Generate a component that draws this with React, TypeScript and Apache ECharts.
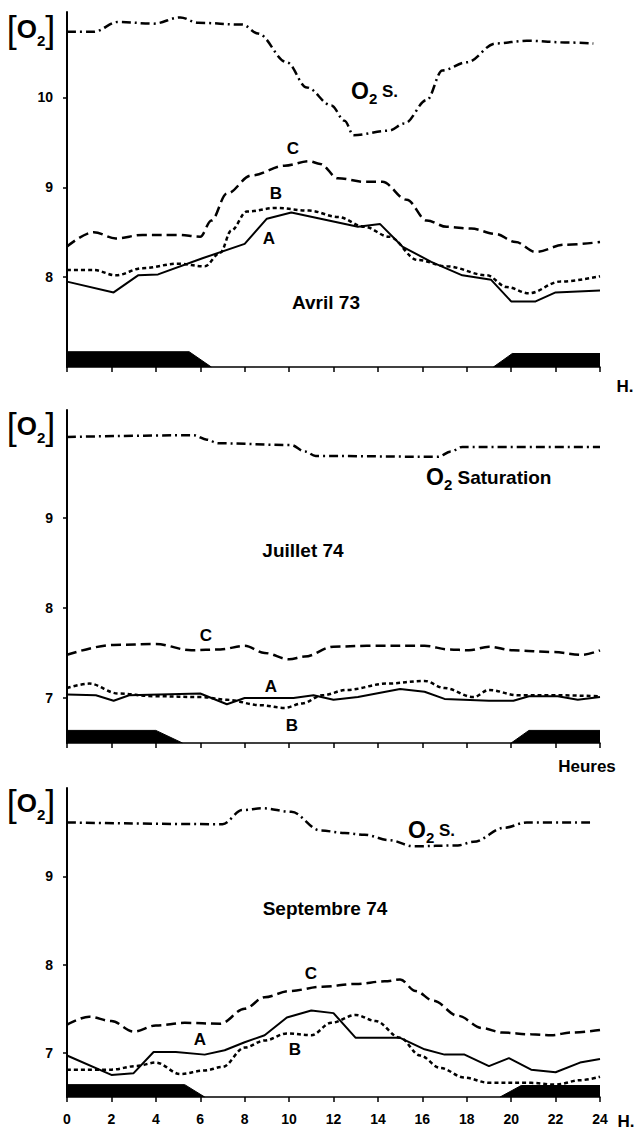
import React, { useEffect, useRef } from 'react';
import * as echarts from 'echarts';

// ---------- DATA (hour, mg/l O2) ----------
const hourTicks = [0, 2, 4, 6, 8, 10, 12, 14, 16, 18, 20, 22, 24];

// Avril 73
const aprO2S: number[][] = [[0, 10.73], [1.2, 10.73], [2.3, 10.84], [3.9, 10.82], [5.1, 10.89], [5.9, 10.83], [7.9, 10.81], [8.6, 10.71], [9.9, 10.39], [10.8, 10.11], [11.9, 9.91], [12.5, 9.74], [12.9, 9.58], [14.5, 9.63], [15.2, 9.71], [16.2, 9.97], [16.9, 10.3], [18, 10.39], [19.3, 10.6], [20.7, 10.63], [22.6, 10.61], [23.7, 10.6]];
const aprC: number[][] = [[0, 8.34], [1.2, 8.5], [2.2, 8.43], [3.4, 8.47], [5, 8.47], [6, 8.45], [6.5, 8.63], [7.2, 8.93], [8.3, 9.13], [9.8, 9.24], [10.9, 9.29], [11.4, 9.26], [12.2, 9.1], [13.4, 9.06], [14.2, 9.06], [15.3, 8.86], [16.2, 8.63], [17.1, 8.56], [18.2, 8.54], [19.3, 8.48], [20.2, 8.39], [21.1, 8.28], [22.4, 8.36], [24, 8.39]];
const aprB: number[][] = [[0, 8.08], [1.2, 8.08], [2.2, 8.02], [3.4, 8.1], [5, 8.15], [6.2, 8.12], [6.9, 8.27], [7.4, 8.52], [8.1, 8.73], [9.4, 8.77], [10.9, 8.74], [12.2, 8.67], [13.4, 8.56], [14.5, 8.45], [15.8, 8.19], [17.1, 8.12], [18.9, 8.02], [19.8, 7.89], [20.8, 7.82], [22.2, 7.95], [24, 8.01]];
const aprA: number[][] = [[0, 7.95], [2.1, 7.83], [3.2, 8.02], [4.1, 8.03], [6.1, 8.21], [8, 8.37], [9, 8.65], [10.1, 8.72], [13.1, 8.56], [14.1, 8.59], [15.1, 8.34], [16.4, 8.17], [17.8, 8.02], [19.1, 7.97], [20, 7.73], [21.1, 7.73], [22, 7.83], [24, 7.85]];
const aprNightAM: number[][] = [[0, 7.17], [5.5, 7.17], [6.5, 7]];
const aprNightPM: number[][] = [[19.2, 7], [20.05, 7.15], [24, 7.15]];

// Juillet 74
const julO2S: number[][] = [[0, 9.9], [5.7, 9.92], [6.3, 9.87], [6.8, 9.83], [10.1, 9.81], [10.7, 9.74], [11.2, 9.69], [16.7, 9.68], [17.3, 9.74], [17.8, 9.79], [24, 9.79]];
const julC: number[][] = [[0, 7.48], [2.1, 7.59], [4, 7.6], [5.6, 7.53], [6.9, 7.54], [8, 7.58], [8.9, 7.5], [10, 7.43], [10.7, 7.46], [12, 7.57], [13.5, 7.58], [16.1, 7.58], [17.2, 7.54], [18.1, 7.53], [19, 7.57], [20.1, 7.53], [21.9, 7.51], [23.2, 7.48], [24, 7.53]];
const julA: number[][] = [[0, 7.04], [1.3, 7.03], [2.1, 6.97], [2.8, 7.03], [6, 7.05], [7.2, 6.93], [8, 7.0], [10.2, 7.0], [11.1, 7.03], [12, 6.98], [13.1, 7.01], [15, 7.1], [16.1, 7.07], [17, 6.99], [19, 6.97], [20.1, 6.97], [20.8, 7.02], [22.1, 7.02], [23, 6.98], [24, 7.01]];
const julB: number[][] = [[0, 7.11], [1, 7.16], [2.3, 7.05], [3.9, 7.02], [6.1, 7.01], [7.2, 6.98], [8.7, 6.92], [9.8, 6.89], [10.6, 6.94], [11.5, 7.03], [12.6, 7.09], [14.4, 7.16], [16.1, 7.19], [17, 7.11], [18.3, 7.01], [19, 7.09], [20.3, 7.03], [22.1, 7.03], [24, 7.02]];
const julNightAM: number[][] = [[0, 6.64], [4.0, 6.64], [5.2, 6.5]];
const julNightPM: number[][] = [[20.0, 6.5], [20.8, 6.64], [24, 6.64]];

// Septembre 74
const sepO2S: number[][] = [[0, 9.61], [7, 9.59], [7.9, 9.75], [8.8, 9.77], [10.1, 9.73], [11.4, 9.52], [12.5, 9.49], [13.4, 9.47], [14.5, 9.41], [15.6, 9.34], [17.6, 9.35], [18.3, 9.39], [19.7, 9.55], [20.7, 9.61], [23.6, 9.61]];
const sepC: number[][] = [[0, 7.32], [1, 7.41], [2, 7.36], [3, 7.24], [4, 7.31], [5.3, 7.34], [6.9, 7.33], [8, 7.5], [8.9, 7.63], [10, 7.7], [11.5, 7.75], [13, 7.78], [14.3, 7.81], [15, 7.83], [15.7, 7.7], [16.5, 7.59], [17.6, 7.42], [18.7, 7.28], [19.6, 7.23], [20.9, 7.21], [21.8, 7.2], [22.7, 7.23], [24, 7.26]];
const sepA: number[][] = [[0, 6.97], [2, 6.75], [3, 6.77], [3.9, 7.01], [4.9, 7.01], [6.2, 6.98], [7.1, 7.03], [8, 7.12], [8.9, 7.2], [9.9, 7.4], [11, 7.48], [12, 7.45], [13, 7.17], [15, 7.17], [16.1, 7.04], [17, 6.98], [17.9, 6.98], [19, 6.85], [19.9, 6.94], [20.9, 6.81], [22, 6.78], [23.1, 6.89], [24, 6.93]];
const sepB: number[][] = [[0, 6.81], [2, 6.81], [3.1, 6.85], [4, 6.89], [5.1, 6.76], [6.2, 6.8], [7, 6.84], [8, 7.06], [8.9, 7.14], [9.9, 7.22], [11, 7.2], [11.9, 7.34], [13, 7.43], [13.9, 7.36], [15, 7.17], [15.9, 6.97], [16.8, 6.83], [17.9, 6.72], [19, 6.66], [20.9, 6.66], [22, 6.64], [23.1, 6.69], [24, 6.73]];
const sepNightAM: number[][] = [[0, 6.64], [5.3, 6.64], [6.2, 6.5]];
const sepNightPM: number[][] = [[19.5, 6.5], [20.45, 6.63], [24, 6.63]];

const FONT = 'Liberation Sans, Arial, sans-serif';

function buildOption() {
  const grids = [
    { left: 67, width: 533, top: 12, height: 355 },
    { left: 67, width: 533, top: 410, height: 333 },
    { left: 67, width: 533, top: 788, height: 309 },
  ].map((g) => ({ ...g, outerBoundsMode: 'none', containLabel: false }));

  const yRanges = [
    { min: 7, max: 10.95, interval: 1, labels: [8, 9, 10] },
    { min: 6.5, max: 10.2, interval: 0.5, labels: [7, 8, 9] },
    { min: 6.5, max: 10.0, interval: 0.5, labels: [7, 8, 9] },
  ];

  const yAxis = yRanges.map((r, i) => ({
    type: 'value',
    gridIndex: i,
    min: r.min,
    max: r.max,
    interval: r.interval,
    splitLine: { show: false },
    axisLine: { show: true, lineStyle: { color: '#000', width: 2 } },
    axisTick: { show: true, customValues: r.labels, length: 4, lineStyle: { color: '#000', width: 1.5 } },
    axisLabel: {
      customValues: r.labels,
      color: '#000',
      fontSize: 14,
      fontWeight: 'bold',
      fontFamily: FONT,
      margin: 14,
    },
  }));

  const xAxis = [0, 1, 2].map((i) => ({
    type: 'value',
    gridIndex: i,
    min: 0,
    max: 24,
    interval: 2,
    splitLine: { show: false },
    axisLine: { show: true, lineStyle: { color: '#000', width: 1.5 } },
    axisTick: { show: true, customValues: hourTicks, length: 5, lineStyle: { color: '#000', width: 1.5 } },
    axisLabel: {
      show: i === 2,
      customValues: hourTicks,
      color: '#000',
      fontSize: 14,
      fontWeight: 'bold',
      fontFamily: FONT,
      margin: 15,
    },
  }));

  const panels = [
    { o2s: aprO2S, c: aprC, b: aprB, a: aprA, am: aprNightAM, pm: aprNightPM },
    { o2s: julO2S, c: julC, b: julB, a: julA, am: julNightAM, pm: julNightPM },
    { o2s: sepO2S, c: sepC, b: sepB, a: sepA, am: sepNightAM, pm: sepNightPM },
  ];

  const series: any[] = [];
  panels.forEach((p, i) => {
    const base = { type: 'line', xAxisIndex: i, yAxisIndex: i, showSymbol: false, symbol: 'none', silent: true };
    [p.am, p.pm].forEach((night) => {
      series.push({
        ...base,
        data: night,
        z: 1,
        lineStyle: { color: '#000', width: 1 },
        areaStyle: { color: '#000', opacity: 1, origin: 'start' },
      });
    });
    series.push({ ...base, data: p.o2s, smooth: 0.35, smoothMonotone: 'x', z: 3, lineStyle: { color: '#000', width: 2.5, type: [9, 4, 2, 4], cap: 'butt' } });
    series.push({ ...base, data: p.c, smooth: 0.35, smoothMonotone: 'x', z: 3, lineStyle: { color: '#000', width: 2.5, type: [10, 5], cap: 'butt' } });
    series.push({ ...base, data: p.b, smooth: 0.35, smoothMonotone: 'x', z: 3, lineStyle: { color: '#000', width: 2.5, type: [4, 3], cap: 'butt' } });
    series.push({ ...base, data: p.a, smooth: false, z: 4, lineStyle: { color: '#000', width: 2 } });
  });

  const txt = (text: string, x: number, y: number, fontSize = 17, align = 'center') => ({
    type: 'text',
    x,
    y,
    silent: true,
    style: {
      text,
      fill: '#000',
      fontSize,
      fontWeight: 'bold',
      fontFamily: FONT,
      align,
      verticalAlign: 'middle',
    },
  });

  const richStyles = {
    br: { fontSize: 36, fontWeight: 'normal', fontFamily: FONT, fill: '#000', lineHeight: 38 },
    o: { fontSize: 26, fontWeight: 'bold', fontFamily: FONT, fill: '#000', lineHeight: 38 },
    s: { fontSize: 15, fontWeight: 'bold', fontFamily: FONT, fill: '#000', lineHeight: 26, verticalAlign: 'bottom' },
    o2: { fontSize: 23, fontWeight: 'bold', fontFamily: FONT, fill: '#000', lineHeight: 30 },
    s2: { fontSize: 15, fontWeight: 'bold', fontFamily: FONT, fill: '#000', lineHeight: 20, verticalAlign: 'bottom' },
    t2: { fontSize: 17, fontWeight: 'bold', fontFamily: FONT, fill: '#000', lineHeight: 30 },
    t3: { fontSize: 19, fontWeight: 'bold', fontFamily: FONT, fill: '#000', lineHeight: 30 },
  };

  const rich = (text: string, x: number, y: number, align = 'center') => ({
    type: 'text',
    x,
    y,
    silent: true,
    style: { text, rich: richStyles, align, verticalAlign: 'middle', fill: '#000' },
  });

  const O2 = '{br|[}{o|O}{s|2}{br|]}';

  const graphic = [
    rich(O2, 31, 29),
    rich(O2, 31, 426),
    rich(O2, 31, 803),
    rich('{o2|O}{s2|2}{t2| S.}', 351, 91, 'left'),
    rich('{o2|O}{s2|2}{t3| Saturation}', 426, 477, 'left'),
    rich('{o2|O}{s2|2}{t2| S.}', 408, 830, 'left'),
    txt('C', 293, 148),
    txt('B', 276, 193),
    txt('A', 269, 238),
    txt('Avril 73', 326, 302, 19),
    txt('H.', 625, 386),
    txt('C', 206, 635),
    txt('A', 271, 686),
    txt('B', 292, 725),
    txt('Juillet 74', 303, 550, 19),
    txt('Heures', 587, 766),
    txt('C', 311, 973),
    txt('A', 200, 1039),
    txt('B', 295, 1049),
    txt('Septembre 74', 325, 908, 19),
    txt('H.', 626, 1121),
  ];

  return {
    animation: false,
    backgroundColor: '#fff',
    grid: grids,
    xAxis,
    yAxis,
    series,
    graphic,
  };
}

export default function App() {
  const ref = useRef<HTMLDivElement>(null);
  useEffect(() => {
    document.body.style.margin = '0';
    const chart = echarts.init(ref.current as HTMLDivElement, null, { renderer: 'svg' });
    chart.setOption(buildOption() as any);
    return () => chart.dispose();
  }, []);
  return <div ref={ref} style={{ width: 640, height: 1132 }} />;
}
